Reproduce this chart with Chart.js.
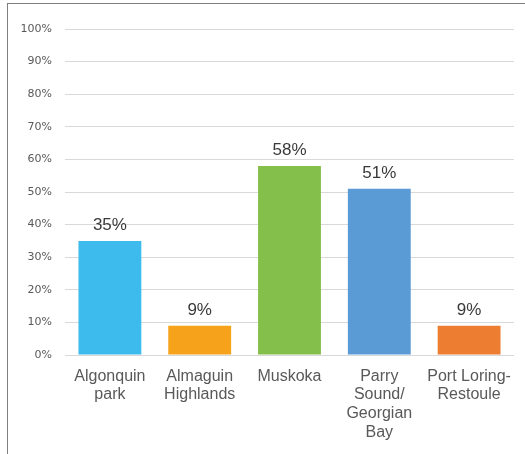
<!DOCTYPE html>
<html>
<head>
<meta charset="utf-8">
<script src="https://cdn.jsdelivr.net/npm/chart.js@4/dist/chart.umd.min.js"></script>
<style>
    html, body { margin: 0; padding: 0; background: #fff; overflow: hidden; }
    #wrap { position: relative; width: 525px; height: 454px; overflow: hidden; }
    #frame {
        position: absolute; left: 7px; top: 3px; width: 600px; height: 600px;
        border-left: 1.5px solid #7f7f7f; border-top: 1.5px solid #7f7f7f;
        pointer-events: none;
    }
    canvas { position: absolute; left: 0; top: 0; }
</style>
</head>
<body>
<div id="wrap">
    <canvas id="regionChart" width="525" height="454"></canvas>
    <div id="frame"></div>
</div>
<script>
const regions = [
    ['Algonquin', 'park'],
    ['Almaguin', 'Highlands'],
    'Muskoka',
    ['Parry', 'Sound/', 'Georgian', 'Bay'],
    ['Port Loring-', 'Restoule']
];
const shares = [35, 9, 58, 51, 9];
const barColors = ['#3dbbec', '#f7a21b', '#83bf4a', '#5b9bd5', '#ed7d31'];
const yTicks = [0, 10, 20, 30, 40, 50, 60, 70, 80, 90, 100];

// writes the percentage above each bar
const valueLabels = {
    id: 'valueLabels',
    afterDatasetsDraw(chart) {
        const ctx = chart.ctx;
        const meta = chart.getDatasetMeta(0);
        ctx.save();
        ctx.font = '17px "Liberation Sans", Arial, sans-serif';
        ctx.fillStyle = '#3a3a3a';
        ctx.textAlign = 'center';
        ctx.textBaseline = 'alphabetic';
        meta.data.forEach((bar, i) => {
            ctx.fillText(shares[i] + '%', bar.x, bar.y - 11);
        });
        ctx.restore();
    }
};

const ctx = document.getElementById('regionChart').getContext('2d');
new Chart(ctx, {
    type: 'bar',
    data: {
        labels: regions,
        datasets: [{
            data: shares,
            backgroundColor: barColors,
            borderWidth: 0,
            barPercentage: 0.7,
            categoryPercentage: 1
        }]
    },
    options: {
        responsive: false,
        animation: false,
        layout: { padding: { top: 29, right: 11, left: 0, bottom: 0 } },
        plugins: {
            legend: { display: false },
            tooltip: { enabled: false }
        },
        scales: {
            x: {
                grid: { display: false, drawTicks: false },
                border: { display: false },
                ticks: {
                    padding: 12,
                    maxRotation: 0,
                    autoSkip: false,
                    color: '#595959',
                    font: { family: '"Liberation Sans", Arial, sans-serif', size: 16, lineHeight: 1.17 }
                },
                afterFit: (scale) => { scale.height = 99; }
            },
            y: {
                min: 0,
                max: 100,
                afterBuildTicks: (scale) => {
                    scale.ticks = yTicks.map(v => ({ value: v }));
                },
                grid: { color: '#d9d9d9', lineWidth: 1, drawTicks: false },
                border: { display: false },
                ticks: {
                    padding: 13,
                    color: '#595959',
                    font: { family: '"DejaVu Sans", Verdana, sans-serif', size: 11 },
                    callback: (v) => v + '%'
                },
                afterFit: (scale) => { scale.width = 65; }
            }
        }
    },
    plugins: [valueLabels]
});
</script>
</body>
</html>
